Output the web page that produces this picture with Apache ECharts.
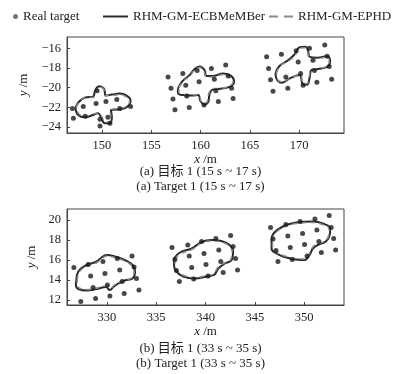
<!DOCTYPE html>
<html><head><meta charset="utf-8">
<script src="https://cdn.jsdelivr.net/npm/echarts@6/dist/echarts.min.js"></script>
<style>html,body{margin:0;padding:0;background:#fff}#c{width:401px;height:374px}</style>
</head><body><div id="c"></div>
<script>
// ---- data ----
const topXTicks = [150, 155, 160, 165, 170];
const topYTicks = [-24, -22, -20, -18, -16];
const botXTicks = [330, 335, 340, 345, 350];
const botYTicks = [12, 14, 16, 18, 20];

const topDots = [
  [147.0,-22.1],[147.1,-23.1],[148.1,-21.9],[148.3,-22.9],[149.4,-21.6],[149.5,-20.3],[149.8,-23.2],[149.8,-23.9],
  [150.4,-21.4],[150.6,-23.0],[150.8,-23.6],[151.5,-21.2],[151.8,-22.1],[152.9,-21.9],
  [156.7,-18.9],[158.2,-18.55],[157.0,-20.05],[157.2,-21.15],[157.4,-22.25],[158.85,-22.0],[158.5,-19.75],[158.6,-20.85],
  [159.65,-18.25],[159.85,-19.4],[160.35,-21.75],[161.1,-18.05],[161.4,-19.15],[161.55,-20.3],[161.8,-21.4],
  [162.55,-17.7],[162.8,-18.8],[163.15,-20.05],[163.3,-21.1],
  [166.7,-16.85],[168.2,-16.6],[166.9,-18.05],[167.1,-19.2],[167.35,-20.35],[168.85,-20.05],[168.65,-18.9],
  [169.9,-17.4],[169.7,-16.25],[170.15,-18.55],[170.4,-19.75],[171.05,-16.0],[171.4,-17.2],[171.55,-18.25],
  [171.8,-19.45],[172.6,-15.65],[172.85,-16.8],[173.05,-17.85],[173.3,-19.15]
];
const botDots = [
  [326.65,15.25],[327.35,11.85],[328.1,15.55],[328.35,14.4],[328.6,13.25],[328.85,12.15],[329.6,15.85],[329.8,14.65],
  [330.05,13.5],[330.3,12.4],[331.05,16.15],[331.3,15.0],[331.55,13.85],[331.75,12.65],[332.55,16.4],[332.75,15.3],
  [333.0,14.15],[333.25,13.0],
  [336.6,17.25],[338.2,17.5],[339.6,17.85],[341.05,18.15],[342.55,18.45],[336.9,16.05],[338.35,16.4],[339.85,16.65],
  [341.35,17.0],[342.8,17.35],[337.05,14.95],[338.6,15.25],[340.05,15.55],[341.55,15.85],[343.05,16.15],
  [337.35,13.85],[338.8,14.1],[340.25,14.4],[341.8,14.75],[343.25,15.0],
  [346.6,19.25],[348.15,19.55],[349.6,19.85],[351.1,20.1],[352.55,20.45],[346.85,18.1],[348.35,18.4],[349.85,18.65],
  [351.3,19.0],[352.75,19.25],[347.15,16.95],[348.6,17.25],[350.05,17.55],[351.5,17.85],[353.0,18.15],
  [347.35,15.85],[348.8,16.05],[350.3,16.4],[351.75,16.75],[353.2,17.0]
];

const c1Solid = [[147.3,-22.1],[147.6,-21.5],[148.3,-21.0],[149.1,-20.9],[149.3,-20.3],[149.7,-19.85],[150.2,-20.1],[150.4,-20.8],[151.0,-20.7],[151.8,-20.6],[152.5,-20.8],[152.9,-21.3],[152.6,-21.9],[151.8,-22.2],[150.9,-22.3],[151.0,-23.0],[150.8,-23.6],[150.3,-23.6],[149.9,-23.0],[149.6,-22.6],[149.0,-22.8],[148.3,-23.0],[147.6,-22.8],[147.3,-22.1]];
const c1Dashed = [[147.4,-22.0],[147.7,-21.4],[148.4,-21.0],[149.1,-21.0],[149.4,-20.3],[149.8,-19.95],[150.2,-20.2],[150.3,-20.8],[151.0,-20.8],[151.8,-20.7],[152.4,-20.9],[152.8,-21.4],[152.5,-21.9],[151.7,-22.1],[150.8,-22.3],[150.9,-23.0],[150.7,-23.5],[150.3,-23.5],[150.0,-23.0],[149.7,-22.6],[149.0,-22.7],[148.3,-22.9],[147.7,-22.7],[147.4,-22.0]];
const c2Solid = [[157.7,-20.1],[158.1,-19.4],[158.9,-18.7],[159.4,-18.1],[159.9,-17.85],[160.4,-18.2],[160.6,-18.8],[161.3,-18.8],[162.3,-18.55],[163.1,-18.8],[163.4,-19.4],[163.0,-19.9],[162.0,-20.1],[161.2,-20.2],[160.9,-20.7],[160.8,-21.4],[160.4,-21.7],[160.0,-21.4],[159.75,-20.75],[159.1,-20.8],[158.2,-20.75],[157.7,-20.5],[157.7,-20.1]];
const c2Dashed = [[157.8,-20.0],[158.2,-19.4],[158.9,-18.8],[159.4,-18.2],[159.9,-17.95],[160.3,-18.25],[160.6,-18.9],[161.3,-18.9],[162.3,-18.65],[163.0,-18.9],[163.3,-19.4],[162.9,-19.85],[162.0,-20.05],[161.2,-20.1],[160.8,-20.7],[160.7,-21.35],[160.4,-21.6],[160.05,-21.35],[159.8,-20.7],[159.1,-20.75],[158.3,-20.7],[157.8,-20.45],[157.8,-20.0]];
const c3Solid = [[167.6,-18.55],[168.0,-17.8],[168.9,-17.2],[169.55,-16.6],[170.05,-15.9],[170.65,-15.85],[170.9,-16.25],[171.05,-16.85],[171.9,-16.95],[172.75,-16.8],[173.15,-17.25],[172.9,-17.85],[171.9,-18.1],[171.25,-18.2],[171.05,-19.05],[170.8,-19.7],[170.35,-19.6],[170.05,-18.7],[169.05,-19.05],[168.2,-19.5],[167.75,-19.2],[167.6,-18.55]];
const c3Dashed = [[167.7,-18.5],[168.1,-17.75],[168.9,-17.3],[169.6,-16.7],[170.05,-16.0],[170.6,-15.95],[170.85,-16.3],[171.0,-16.9],[171.9,-17.05],[172.7,-16.9],[173.05,-17.3],[172.85,-17.8],[171.9,-18.05],[171.2,-18.15],[171.0,-19.0],[170.75,-19.6],[170.4,-19.55],[170.1,-18.75],[169.1,-19.0],[168.25,-19.4],[167.8,-19.15],[167.7,-18.5]];

const c4Solid = [[326.9,14.0],[327.1,14.85],[327.95,15.5],[328.95,15.85],[329.45,16.25],[329.95,16.5],[330.8,16.35],[331.8,16.0],[332.6,15.5],[332.85,14.85],[332.6,14.15],[331.8,13.95],[331.15,13.65],[330.65,13.3],[330.3,13.0],[329.9,13.3],[328.95,13.1],[327.95,12.95],[327.1,13.1],[326.85,13.5],[326.9,14.0]];
const c4Dashed = [[327.0,14.0],[327.2,14.8],[328.0,15.4],[329.0,15.75],[329.5,16.15],[330.0,16.4],[330.8,16.25],[331.8,15.9],[332.5,15.45],[332.75,14.85],[332.5,14.2],[331.8,14.0],[331.2,13.75],[330.7,13.45],[330.35,13.15],[329.95,13.4],[329.0,13.2],[328.0,13.05],[327.2,13.2],[326.95,13.55],[327.0,14.0]];
const c5Solid = [[336.8,16.15],[337.4,16.75],[338.6,17.15],[339.6,17.8],[340.6,18.0],[341.6,17.9],[342.45,17.5],[342.8,16.85],[342.65,16.0],[341.95,15.65],[341.3,15.15],[340.85,14.5],[340.1,14.35],[338.9,14.15],[337.75,14.35],[337.05,14.85],[336.8,15.5],[336.8,16.15]];
const c5Dashed = [[336.9,16.1],[337.5,16.65],[338.6,17.05],[339.6,17.7],[340.6,17.9],[341.55,17.8],[342.35,17.45],[342.7,16.85],[342.55,16.05],[341.9,15.7],[341.25,15.25],[340.8,14.6],[340.1,14.45],[338.9,14.25],[337.8,14.45],[337.15,14.9],[336.9,15.5],[336.9,16.1]];
const c6Solid = [[346.7,18.0],[346.9,18.65],[347.85,19.35],[349.2,19.75],[350.9,19.85],[351.9,19.65],[352.65,19.15],[352.6,18.5],[352.2,17.85],[351.4,17.5],[350.9,17.15],[350.55,16.5],[350.05,16.0],[349.2,16.05],[348.2,16.25],[347.2,16.65],[346.7,17.15],[346.7,18.0]];
const c6Dashed = [[346.8,18.0],[347.0,18.6],[347.9,19.25],[349.2,19.65],[350.9,19.75],[351.85,19.55],[352.55,19.1],[352.5,18.5],[352.1,17.9],[351.35,17.6],[350.85,17.25],[350.5,16.6],[350.0,16.1],[349.2,16.15],[348.2,16.35],[347.25,16.75],[346.8,17.2],[346.8,18.0]];

// ---- chart ----
const FONT = "'Liberation Serif', 'Noto Sans CJK SC', serif";
const TXT = '#222';
const AX = '#444';
const chart = echarts.init(document.getElementById('c'), null, {renderer: 'canvas'});
const minus = v => String(v).replace('-', '\u2212');

function xAxis(gi, min, max, ticks) {
  return {
    type: 'value', gridIndex: gi, min: min, max: max,
    name: '{i|x} /m', nameLocation: 'middle', nameGap: 20,
    nameTextStyle: {fontFamily: FONT, fontSize: 13, color: TXT, rich: {i: {fontStyle: 'italic', fontFamily: FONT, fontSize: 13, color: TXT}}},
    splitLine: {show: false},
    axisLine: {show: true, onZero: false, lineStyle: {color: AX, width: 1}},
    axisTick: {show: true, inside: true, length: 3, lineStyle: {color: AX}, customValues: ticks},
    axisLabel: {fontFamily: FONT, fontSize: 12.5, color: TXT, margin: 6, customValues: ticks, formatter: minus}
  };
}
function yAxis(gi, min, max, ticks) {
  return {
    type: 'value', gridIndex: gi, min: min, max: max,
    name: '{i|y} /m', nameLocation: 'middle', nameGap: 28, nameRotate: 90,
    nameTextStyle: {fontFamily: FONT, fontSize: 13, color: TXT, rich: {i: {fontStyle: 'italic', fontFamily: FONT, fontSize: 13, color: TXT}}},
    splitLine: {show: false},
    axisLine: {show: true, onZero: false, lineStyle: {color: AX, width: 1}},
    axisTick: {show: true, inside: true, length: 3, lineStyle: {color: AX}, customValues: ticks},
    axisLabel: {fontFamily: FONT, fontSize: 12.5, color: TXT, margin: 6, customValues: ticks, formatter: minus}
  };
}
function solid(data, gi) {
  return {name: 'RHM-GM-ECBMeMBer', type: 'line', xAxisIndex: gi, yAxisIndex: gi, data: data,
    smooth: 0.45, symbol: 'none', lineStyle: {color: '#2a2a2a', width: 2}, itemStyle: {color: '#2a2a2a'}, z: 3};
}
function dashed(data, gi) {
  return {name: 'RHM-GM-EPHD', type: 'line', xAxisIndex: gi, yAxisIndex: gi, data: data,
    smooth: 0.45, symbol: 'none', lineStyle: {color: '#8a8a8a', width: 1.5, type: [5, 4]}, itemStyle: {color: '#8a8a8a'}, z: 4};
}
function dots(data, gi) {
  return {name: 'Real target', type: 'scatter', xAxisIndex: gi, yAxisIndex: gi, data: data,
    symbol: 'circle', symbolSize: 5, itemStyle: {color: '#1a1a1a'}, z: 5};
}

const legendText = {fontFamily: FONT, fontSize: 13, color: TXT};
chart.setOption({
  animation: false,
  backgroundColor: '#fff',
  legend: [
    {data: [{name: 'Real target', icon: 'circle', itemStyle: {color: '#555'}}], left: 8, top: 5, itemWidth: 5, itemHeight: 5, textStyle: legendText, selectedMode: false},
    {data: [{name: 'RHM-GM-ECBMeMBer', icon: 'rect', itemStyle: {color: '#2a2a2a'}}], left: 98, top: 5, itemWidth: 25, itemHeight: 2, textStyle: legendText, selectedMode: false},
    {data: [{name: 'RHM-GM-EPHD', icon: 'path://M0,0h9v2h-9z M15,0h9v2h-9z', itemStyle: {color: '#8a8a8a'}}], left: 264, top: 5, itemWidth: 24, itemHeight: 2, textStyle: legendText, selectedMode: false}
  ],
  grid: [
    {left: 67, top: 37, width: 277, height: 96, show: true, borderColor: AX, borderWidth: 1, backgroundColor: 'transparent'},
    {left: 67, top: 209, width: 277, height: 96, show: true, borderColor: AX, borderWidth: 1, backgroundColor: 'transparent'}
  ],
  xAxis: [xAxis(0, 146.45, 174.55, topXTicks), xAxis(1, 325.95, 354.05, botXTicks)],
  yAxis: [yAxis(0, -24.6, -14.85, topYTicks), yAxis(1, 11.5, 21.1, botYTicks)],
  graphic: [
    {type: 'text', left: 'center', top: 165, style: {text: '(a) 目标 1 (15 s ~ 17 s)', font: "13px " + FONT, fill: TXT}},
    {type: 'text', left: 'center', top: 180, style: {text: '(a) Target 1 (15 s ~ 17 s)', font: "13px " + FONT, fill: TXT}},
    {type: 'text', left: 'center', top: 342, style: {text: '(b) 目标 1 (33 s ~ 35 s)', font: "13px " + FONT, fill: TXT}},
    {type: 'text', left: 'center', top: 357, style: {text: '(b) Target 1 (33 s ~ 35 s)', font: "13px " + FONT, fill: TXT}}
  ],
  series: [
    solid(c1Solid, 0), dashed(c1Dashed, 0), solid(c2Solid, 0), dashed(c2Dashed, 0), solid(c3Solid, 0), dashed(c3Dashed, 0),
    dots(topDots, 0),
    solid(c4Solid, 1), dashed(c4Dashed, 1), solid(c5Solid, 1), dashed(c5Dashed, 1), solid(c6Solid, 1), dashed(c6Dashed, 1),
    dots(botDots, 1)
  ]
});
</script></body></html>
